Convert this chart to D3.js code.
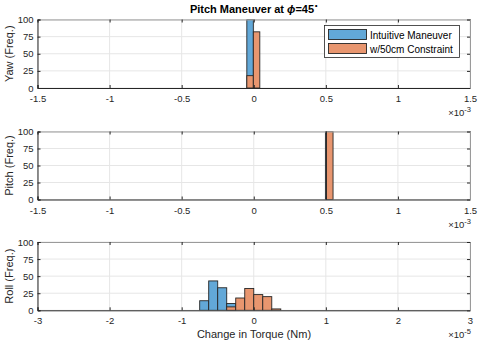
<!DOCTYPE html>
<html><head><meta charset="utf-8">
<script src="https://cdn.jsdelivr.net/npm/d3@7"></script>
<style>body{margin:0;background:#fff}svg{display:block}text{font-family:"Liberation Sans",Arial,sans-serif}</style>
</head><body>
<svg id="c" width="479" height="344"></svg>
<script>
// ---- data ----
const seriesNames = ["Intuitive Maneuver", "w/50cm Constraint"];
const panelNames = ["Yaw", "Pitch", "Roll"];
// yaw (x 1e-3)
const yawIntuitiveBins = [[-0.048, -0.003]];
const yawIntuitiveCounts = [100];
const yawConstraintBins = [[-0.048, -0.003], [-0.003, 0.042]];
const yawConstraintCounts = [18, 82];
// pitch (x 1e-3)
const pitchIntuitiveBins = [[0.497, 0.505]];
const pitchIntuitiveCounts = [100];
const pitchConstraintBins = [[0.505, 0.55]];
const pitchConstraintCounts = [100];
// roll (x 1e-5)
const rollIntuitiveBins = [[-0.75, -0.625], [-0.625, -0.5], [-0.5, -0.375], [-0.375, -0.25]];
const rollIntuitiveCounts = [14, 43, 33, 10];
const rollConstraintBins = [[-0.375, -0.25], [-0.25, -0.125], [-0.125, 0], [0, 0.125], [0.125, 0.25], [0.25, 0.375]];
const rollConstraintCounts = [5, 18, 32, 23, 20, 2];
const xTicksMilli = [-1.5, -1, -0.5, 0, 0.5, 1, 1.5];
const xTicksRoll = [-3, -2, -1, 0, 1, 2, 3];
const yTicks = [0, 25, 50, 75, 100];

const colors = ["#62a8d8", "#e8966f"];
const svg = d3.select("#c");
const L = 37.5, R = 470;

const panels = [
  {name: panelNames[0], top: 19.5, h: 68.5, dom: [-1.5, 1.5], ticks: xTicksMilli, exp: "-3",
   series: [[yawIntuitiveBins, yawIntuitiveCounts], [yawConstraintBins, yawConstraintCounts]]},
  {name: panelNames[1], top: 131.5, h: 68, dom: [-1.5, 1.5], ticks: xTicksMilli, exp: "-3",
   series: [[pitchIntuitiveBins, pitchIntuitiveCounts], [pitchConstraintBins, pitchConstraintCounts]]},
  {name: panelNames[2], top: 242, h: 68.3, dom: [-3, 3], ticks: xTicksRoll, exp: "-5",
   series: [[rollIntuitiveBins, rollIntuitiveCounts], [rollConstraintBins, rollConstraintCounts]]}
];

panels.forEach((p, pi) => {
  const x = d3.scaleLinear().domain(p.dom).range([L, R]);
  const y = d3.scaleLinear().domain([0, 100]).range([p.top + p.h, p.top]);
  const g = svg.append("g");
  // grid
  g.selectAll(".gx").data(p.ticks).join("line")
    .attr("x1", d => x(d)).attr("x2", d => x(d)).attr("y1", p.top).attr("y2", p.top + p.h)
    .attr("stroke", "#e6e6e6").attr("stroke-width", 1);
  g.selectAll(".gy").data(yTicks).join("line")
    .attr("x1", L).attr("x2", R).attr("y1", d => y(d)).attr("y2", d => y(d))
    .attr("stroke", "#e6e6e6").attr("stroke-width", 1);
  // bars
  const clipId = "clip" + pi;
  svg.append("clipPath").attr("id", clipId).append("rect")
    .attr("x", L).attr("y", p.top).attr("width", R - L).attr("height", p.h);
  const bg = g.append("g").attr("clip-path", `url(#${clipId})`);
  p.series.forEach(([bins, counts], si) => {
    const data = bins.map((b, i) => ({x0: b[0], x1: b[1], c: counts[i]}));
    bg.selectAll(".b" + si).data(data).join("rect")
      .attr("x", d => x(d.x0)).attr("width", d => x(d.x1) - x(d.x0))
      .attr("y", d => y(d.c)).attr("height", d => y(0) - y(d.c))
      .attr("fill", colors[si]).attr("stroke", "#262626").attr("stroke-width", 0.9);
  });
  // axes
  const fmt = d => String(d);
  const ax = g.append("g").attr("transform", `translate(0,${p.top + p.h})`)
    .call(d3.axisBottom(x).tickValues(p.ticks).tickSize(-3).tickPadding(3).tickFormat(fmt));
  const axT = g.append("g").attr("transform", `translate(0,${p.top})`)
    .call(d3.axisTop(x).tickValues(p.ticks).tickSize(-3).tickFormat(""));
  const ay = g.append("g").attr("transform", `translate(${L},0)`)
    .call(d3.axisLeft(y).tickValues(yTicks).tickSize(-3).tickPadding(4).tickFormat(fmt));
  const ayR = g.append("g").attr("transform", `translate(${R},0)`)
    .call(d3.axisRight(y).tickValues(yTicks).tickSize(-3).tickFormat(""));
  [ax, axT, ay, ayR].forEach(a => {
    a.select(".domain").attr("stroke", "#262626").attr("stroke-width", 1);
    a.selectAll(".tick line").attr("stroke", "#262626");
    a.selectAll("text").attr("fill", "#262626").attr("font-size", 9.5)
      .style("font-family", '"Liberation Sans",Arial,sans-serif');
  });
  axT.select(".domain").attr("stroke", "#9a9a9a");
  ayR.select(".domain").attr("stroke", "#9a9a9a");
  ax.selectAll("text").attr("y", 14).attr("dy", 0);
  // ylabel
  g.append("text").attr("transform", `translate(13,${p.top + p.h / 2}) rotate(-90)`)
    .attr("text-anchor", "middle").attr("font-size", 11).attr("fill", "#262626")
    .text(p.name + " (Freq.)");
  // exponent
  const et = g.append("text").attr("x", R + 1).attr("y", p.top + p.h + 28)
    .attr("text-anchor", "end").attr("font-size", 9.5).attr("fill", "#262626");
  et.append("tspan").text("\u00d710");
  et.append("tspan").attr("dy", -4).attr("font-size", 7.5).text(p.exp);
});

// title
const t = svg.append("text").attr("x", 254).attr("y", 13).attr("text-anchor", "middle")
  .attr("font-size", 11).attr("font-weight", "bold").attr("fill", "#000");
t.append("tspan").text("Pitch Maneuver at ");
t.append("tspan").attr("font-style", "italic").text("\u03d5");
t.append("tspan").text("=45");
t.append("tspan").attr("dy", -5).attr("font-size", 7).attr("font-weight", "normal").text("\u2218");

// x label
svg.append("text").attr("x", 254).attr("y", 338).attr("text-anchor", "middle")
  .attr("font-size", 11).attr("fill", "#262626").text("Change in Torque (Nm)");

// legend
const lg = svg.append("g");
lg.append("rect").attr("x", 324.5).attr("y", 25.5).attr("width", 135).attr("height", 32)
  .attr("fill", "#fff").attr("stroke", "#262626").attr("stroke-width", 0.8);
seriesNames.forEach((n, i) => {
  lg.append("rect").attr("x", 328.5).attr("y", 29.5 + i * 14).attr("width", 38).attr("height", 10)
    .attr("fill", colors[i]).attr("stroke", "#262626").attr("stroke-width", 0.9);
  lg.append("text").attr("x", 370).attr("y", 38.5 + i * 14).attr("font-size", 10)
    .attr("fill", "#000").text(n);
});
</script>
</body></html>
